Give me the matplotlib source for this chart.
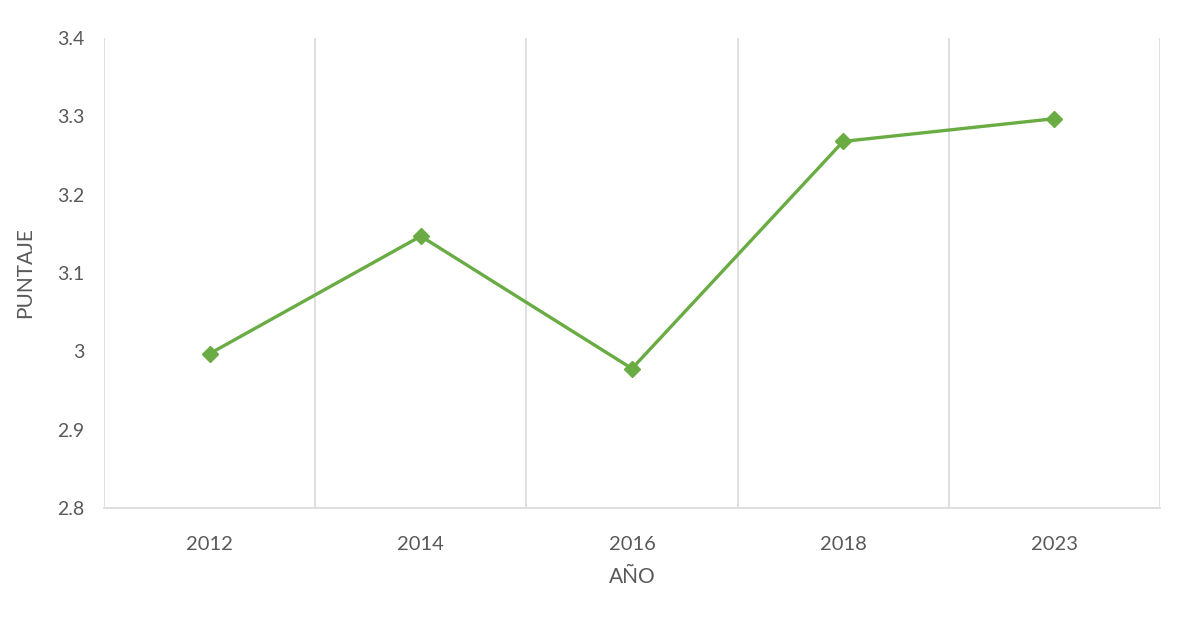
import matplotlib
matplotlib.use("Agg")
import matplotlib.pyplot as plt

years = ["2012", "2014", "2016", "2018", "2023"]
puntaje = [2.997, 3.147, 2.978, 3.268, 3.297]
yticks = [2.8, 2.9, 3.0, 3.1, 3.2, 3.3, 3.4]
ytick_labels = ["2.8", "2.9", "3", "3.1", "3.2", "3.3", "3.4"]

plt.rcParams['font.family'] = ['Lato', 'DejaVu Sans']
gray = "#595959"
grid = "#d9d9d9"

fig = plt.figure(figsize=(11.79, 6.2), dpi=100)
ax = fig.add_axes([104/1179, 1-508/620, (1160-104)/1179, (508-38)/620])

x = list(range(len(years)))
ax.plot(x, puntaje, color="#6aac44", linewidth=2.4, marker="D", markersize=8, zorder=3)

ax.set_xlim(-0.5, len(years)-0.5)
ax.set_ylim(2.8, 3.4)
ax.set_yticks(yticks)
ax.set_yticklabels(ytick_labels)
ax.set_xticks(x)
ax.set_xticklabels(years)
ax.set_xticks([i - 0.5 for i in range(len(years)+1)], minor=True)
ax.grid(True, which="minor", axis="x", color=grid, linewidth=1.2)
ax.grid(False, which="major")
ax.tick_params(axis="both", which="both", length=0, colors=gray, labelsize=14)
ax.tick_params(axis="x", pad=20)
ax.tick_params(axis="y", pad=14)
for lab in ax.get_xticklabels():
    lab.set_fontsize(14.5)
for s in ["top", "right", "left"]:
    ax.spines[s].set_visible(False)
ax.spines["bottom"].set_color(grid)
ax.spines["bottom"].set_linewidth(1.2)

ax.set_xlabel("AÑO", color=gray, fontsize=15, labelpad=10)
ax.set_ylabel("PUNTAJE", color=gray, fontsize=15, labelpad=16)

fig.savefig("out.png", dpi=100, facecolor="white")
